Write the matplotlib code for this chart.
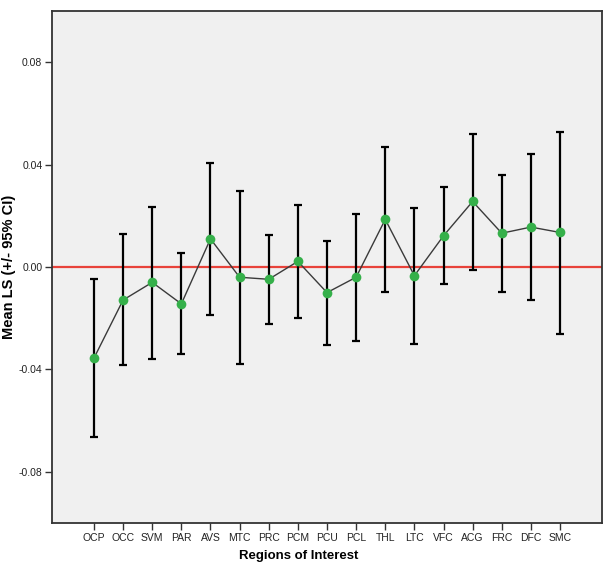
import numpy as np
import matplotlib.pyplot as plt

plt.rcParams['font.family'] = ['Liberation Sans', 'DejaVu Sans']

regions = ['OCP', 'OCC', 'SVM', 'PAR', 'AVS', 'MTC', 'PRC', 'PCM', 'PCU',
           'PCL', 'THL', 'LTC', 'VFC', 'ACG', 'FRC', 'DFC', 'SMC']
mean_ls = [-0.0356, -0.0129, -0.0060, -0.0144, 0.0110, -0.0040, -0.0048, 0.0022, -0.0100,
           -0.0040, 0.0186, -0.0034, 0.0122, 0.0256, 0.0132, 0.0156, 0.0135]
ci_upper = [-0.0048, 0.0129, 0.0236, 0.0055, 0.0405, 0.0297, 0.0127, 0.0244, 0.0103,
            0.0208, 0.0469, 0.0229, 0.0314, 0.0521, 0.0360, 0.0443, 0.0528]
ci_lower = [-0.0664, -0.0384, -0.0360, -0.0340, -0.0186, -0.0377, -0.0222, -0.0201, -0.0305,
            -0.0288, -0.0099, -0.0300, -0.0068, -0.0012, -0.0096, -0.0130, -0.0261]
yticks = [-0.08, -0.04, 0.00, 0.04, 0.08]

x = np.arange(len(regions))
mean_ls = np.array(mean_ls)
err = [mean_ls - np.array(ci_lower), np.array(ci_upper) - mean_ls]

fig = plt.figure(figsize=(6.07, 5.72), dpi=100)
ax = fig.add_axes([0.0857, 0.0857, 0.906, 0.895])
ax.set_facecolor('#f0f0f0')

# zero reference line
ax.axhline(0, color='#e8423a', lw=1.6, zorder=1)
ax.errorbar(x, mean_ls, yerr=err, fmt='none', ecolor='black', elinewidth=1.6,
            capsize=3, capthick=1.6, zorder=2)
ax.plot(x, mean_ls, color='#3a3a3a', lw=1, zorder=3)
ax.plot(x, mean_ls, 'o', color='#35b04a', markersize=7, markeredgewidth=0, zorder=4)

ax.set_xlim(-1.44, len(regions) - 1 + 1.44)
ax.set_ylim(-0.10, 0.10)
ax.set_xticks(x)
ax.set_xticklabels(regions, fontsize=7.5, color='#222222')
ax.set_yticks(yticks)
ax.set_yticklabels(['%.2f' % v for v in yticks], fontsize=7.5, color='#222222')
ax.tick_params(direction='out', length=5, width=1, color='#333333', pad=2)

for s in ax.spines.values():
    s.set_color('#333333')
    s.set_linewidth(1.3)

ax.set_xlabel('Regions of Interest', fontsize=9.5, fontweight='bold')
ax.xaxis.set_label_coords(0.449, -0.052)
ax.set_ylabel('Mean LS (+/- 95% CI)', fontsize=10.5, fontweight='bold')
ax.yaxis.set_label_coords(-0.066, 0.5)

fig.savefig('out.png', dpi=100)
